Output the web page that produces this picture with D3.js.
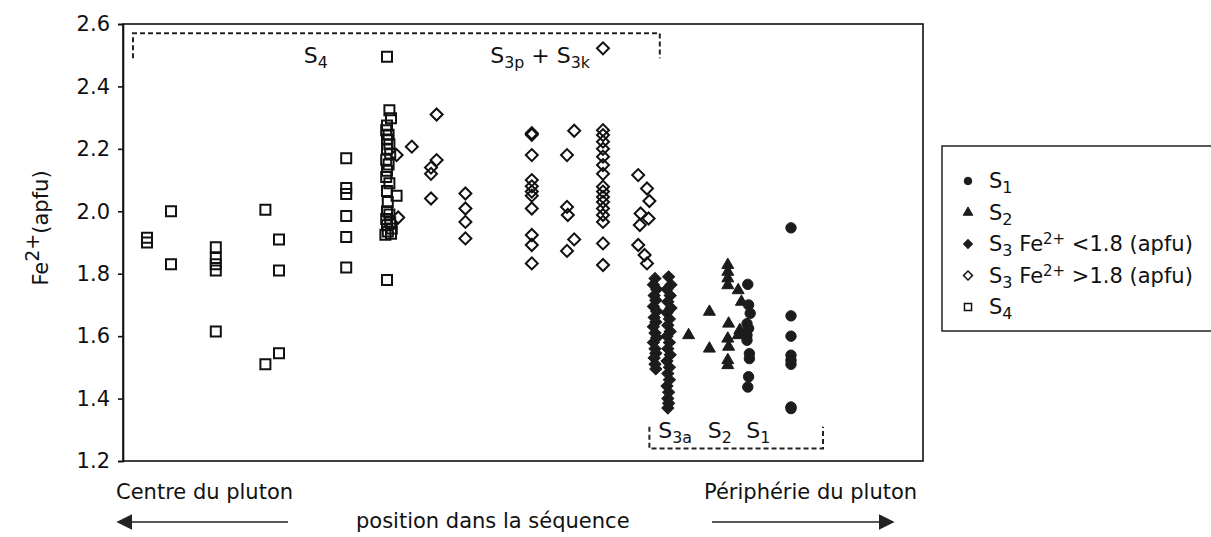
<!DOCTYPE html>
<html><head><meta charset="utf-8">
<script src="https://cdn.jsdelivr.net/npm/d3@7"></script>
<style>
body{margin:0;background:#fff;}
text{font-family:"DejaVu Sans",Verdana,sans-serif;fill:#111;}
</style></head>
<body><svg id="c" width="1211" height="537"></svg>
<script>
// ---------- data: [position in sequence, Fe2+ (apfu)] ----------
const yTicks = [1.2, 1.4, 1.6, 1.8, 2.0, 2.2, 2.4, 2.6];

const seriesS4 = [
  [3.0,1.915],[3.0,1.90],
  [6.0,2.0],[6.0,1.83],
  [11.6,1.885],[11.6,1.85],[11.6,1.83],[11.6,1.81],[11.6,1.615],
  [17.8,2.005],[17.8,1.51],[19.5,1.91],[19.5,1.81],[19.5,1.545],
  [27.9,2.17],[27.9,2.075],[27.9,2.055],[27.9,1.985],[27.9,1.918],[27.9,1.82],
  [33.0,2.495],[33.3,2.324],[33.5,2.298],[33.0,2.275],[32.9,2.26],[33.2,2.245],[33.0,2.23],
  [33.3,2.215],[33.0,2.2],[33.4,2.185],[32.9,2.165],[33.2,2.15],[33.0,2.13],[32.9,2.11],
  [33.3,2.09],[33.0,2.065],[34.2,2.05],[33.1,2.03],[33.0,2.0],[33.3,1.99],[32.9,1.975],
  [33.4,1.965],[33.0,1.955],[33.6,1.945],[33.1,1.935],[32.8,1.925],[33.5,1.928],[33.0,1.78]
];

const seriesS3high = [
  [34.2,2.18],[34.4,1.98],[36.1,2.207],[39.2,2.31],[39.2,2.164],[38.5,2.14],[38.5,2.12],[38.5,2.041],
  [42.8,2.057],[42.8,2.009],[42.8,1.966],[42.8,1.913],
  [51.1,2.25],[51.1,2.245],[51.1,2.18],[51.1,2.1],[51.1,2.08],[51.1,2.063],[51.1,2.05],
  [51.1,2.009],[51.1,1.924],[51.1,1.892],[51.1,1.833],
  [56.4,2.258],[55.5,2.18],[55.5,2.014],[55.6,1.988],[56.4,1.91],[55.5,1.873],
  [60.0,2.522],[60.0,2.26],[60.0,2.244],[60.0,2.223],[60.0,2.2],[60.0,2.175],[60.0,2.148],
  [60.0,2.12],[60.0,2.079],[60.0,2.063],[60.0,2.046],[60.0,2.03],[60.0,2.009],[60.0,1.988],
  [60.0,1.966],[60.0,1.897],[60.0,1.828],
  [64.4,2.116],[65.5,2.073],[65.8,2.033],[64.7,1.993],[65.7,1.977],[64.6,1.956],
  [64.4,1.892],[65.2,1.86],[65.5,1.833]
];

const seriesS3low = [
  [66.5,1.785],[66.3,1.765],[66.7,1.75],[66.4,1.73],[66.6,1.715],[66.3,1.695],[66.7,1.68],
  [66.4,1.66],[66.6,1.645],[66.3,1.63],[66.5,1.61],[66.7,1.595],[66.3,1.58],[66.5,1.56],
  [66.6,1.545],[66.4,1.53],[66.5,1.51],[66.6,1.495],
  [68.2,1.79],[68.5,1.765],[68.0,1.75],[68.4,1.73],[68.1,1.71],[68.5,1.69],[68.0,1.675],
  [68.3,1.655],[68.1,1.635],[68.4,1.615],[68.0,1.6],[68.3,1.58],[68.1,1.56],[68.4,1.54],
  [68.0,1.52],[68.3,1.5],[68.1,1.48],[68.3,1.46],[68.0,1.44],[68.2,1.42],[68.1,1.4],
  [68.2,1.385],[68.1,1.37]
];

const seriesS2 = [
  [70.7,1.603],[73.3,1.678],[73.3,1.56],
  [75.6,1.828],[75.6,1.806],[75.6,1.785],[75.6,1.763],[75.7,1.64],[75.6,1.592],
  [75.7,1.566],[75.6,1.523],[75.6,1.507],
  [76.9,1.747],[77.3,1.71],[77.1,1.619],[76.9,1.603]
];

const seriesS1 = [
  [78.1,1.766],[78.2,1.70],[78.4,1.673],[78.0,1.64],[78.2,1.625],[78.0,1.603],[78.0,1.587],
  [78.3,1.544],[78.3,1.528],[78.2,1.47],[78.1,1.437],
  [83.5,1.947],[83.5,1.665],[83.5,1.60],[83.5,1.539],[83.5,1.523],[83.5,1.51],[83.5,1.373],[83.5,1.368]
];

// bracket outlines [position, Fe]
const bracketTop = [[1.25,2.49],[1.25,2.57],[67.1,2.57],[67.1,2.49]];
const bracketBottom = [[65.8,1.31],[65.8,1.24],[87.5,1.24],[87.5,1.31]];

// ---------- layout ----------
const svg = d3.select("#c");
const x = d3.scaleLinear().domain([0,100]).range([123,923]);
const y = d3.scaleLinear().domain([1.2,2.6]).range([461,24]);

// frame
svg.append("rect").attr("x",x(0)).attr("y",y(2.6)).attr("width",x(100)-x(0)).attr("height",y(1.2)-y(2.6))
  .attr("fill","none").attr("stroke","#111").attr("stroke-width",1.6);

const ax = svg.append("g").attr("transform",`translate(${x(0)},0)`)
  .call(d3.axisLeft(y).tickValues(yTicks).tickFormat(d3.format(".1f")).tickSize(5).tickPadding(8));
ax.select(".domain").attr("stroke","#111").attr("stroke-width",1.6);
ax.selectAll(".tick line").attr("stroke","#111").attr("stroke-width",1.6);
ax.selectAll(".tick text").attr("font-size",21).attr("font-family","DejaVu Sans").attr("fill","#111");

// y label
const yl = svg.append("text").attr("transform","translate(48,228) rotate(-90)")
  .attr("text-anchor","middle").attr("font-size",21);
yl.append("tspan").text("Fe");
yl.append("tspan").attr("dy",-9).attr("font-size",19).text("2+");
yl.append("tspan").attr("dy",9).text("(apfu)");

// brackets
const line = d3.line().x(d=>x(d[0])).y(d=>y(d[1]));
[bracketTop, bracketBottom].forEach(b=>{
  svg.append("path").attr("d",line(b)).attr("fill","none").attr("stroke","#222")
    .attr("stroke-width",2).attr("stroke-dasharray","5,3");
});

// label helper with subscripts
function subLabel(px, py, base, sub, size, extra){
  const t = svg.append("text").attr("x",px).attr("y",py).attr("font-size",size);
  t.append("tspan").text(base);
  t.append("tspan").attr("dy",5).attr("font-size",size*0.72).text(sub);
  if(extra){ t.append("tspan").attr("dy",-5).text(extra[0]);
    t.append("tspan").attr("font-size",size).text(extra[1]);
    t.append("tspan").attr("dy",5).attr("font-size",size*0.72).text(extra[2]); }
  return t;
}
subLabel(x(22.6), y(2.475), "S", "4", 22);
subLabel(x(45.9), y(2.475), "S", "3p", 22, [" + ", "S", "3k"]);
subLabel(x(66.9), y(1.275), "S", "3a", 22);
subLabel(x(73.1), y(1.275), "S", "2", 22);
subLabel(x(77.9), y(1.275), "S", "1", 22);

// markers
const sq = d3.symbol(d3.symbolSquare, 100)();
const dia = d3.symbol(d3.symbolSquare, 72)();
const tri = d3.symbol(d3.symbolTriangle, 62)();
const cir = d3.symbol(d3.symbolCircle, 85)();
const dark = "#1c1c1c";

function plot(data, path, fill, rot){
  svg.append("g").selectAll("path").data(data).join("path")
    .attr("d",path)
    .attr("transform",d=>`translate(${x(d[0])},${y(d[1])})${rot?" rotate(45)":""}`)
    .attr("fill",fill?dark:"#fff").attr("fill-opacity",fill?1:0)
    .attr("stroke",fill?dark:"#111").attr("stroke-width",fill?1:2);
}
plot(seriesS4, sq, false, false);
plot(seriesS3high, dia, false, true);
plot(seriesS3low, dia, true, true);
plot(seriesS2, tri, true, false);
plot(seriesS1, cir, true, false);

// legend
const lg = svg.append("g");
lg.append("rect").attr("x",942).attr("y",146).attr("width",300).attr("height",185)
  .attr("fill","#fff").attr("stroke","#222").attr("stroke-width",1.5);
const legItems = [
  {sym:d3.symbol(d3.symbolCircle,45)(), fill:true, rot:false, sub:"1", rest:null},
  {sym:d3.symbol(d3.symbolTriangle,40)(), fill:true, rot:false, sub:"2", rest:null},
  {sym:d3.symbol(d3.symbolSquare,40)(), fill:true, rot:true, sub:"3", rest:"<1.8 (apfu)"},
  {sym:d3.symbol(d3.symbolSquare,40)(), fill:false, rot:true, sub:"3", rest:">1.8 (apfu)"},
  {sym:d3.symbol(d3.symbolSquare,50)(), fill:false, rot:false, sub:"4", rest:null}
];
legItems.forEach((it,i)=>{
  const cy = 181 + i*31.5;
  lg.append("path").attr("d",it.sym)
    .attr("transform",`translate(968,${cy})${it.rot?" rotate(45)":""}`)
    .attr("fill",it.fill?dark:"none").attr("stroke",it.fill?dark:"#111").attr("stroke-width",it.fill?1:1.5);
  const t = lg.append("text").attr("x",989).attr("y",cy+7).attr("font-size",21);
  t.append("tspan").text("S");
  t.append("tspan").attr("dy",5).attr("font-size",16).text(it.sub);
  if(it.rest){
    t.append("tspan").attr("dy",-5).text(" Fe");
    t.append("tspan").attr("dy",-7).attr("font-size",15).text("2+");
    t.append("tspan").attr("dy",7).text(" " + it.rest);
  }
});

// bottom annotations
svg.append("text").attr("x",116).attr("y",499).attr("font-size",21).text("Centre du pluton");
svg.append("text").attr("x",356).attr("y",528).attr("font-size",21).text("position dans la séquence");
svg.append("text").attr("x",704).attr("y",499).attr("font-size",21).text("Périphérie du pluton");

const defs = svg.append("defs");
defs.append("marker").attr("id","ah").attr("viewBox","0 0 10 10").attr("refX",9).attr("refY",5)
  .attr("markerWidth",16).attr("markerHeight",16).attr("markerUnits","userSpaceOnUse")
  .attr("orient","auto").append("path").attr("d","M0,0 L10,5 L0,10 Z").attr("fill","#222");
svg.append("line").attr("x1",288).attr("y1",522).attr("x2",118).attr("y2",522)
  .attr("stroke","#222").attr("stroke-width",1.5).attr("marker-end","url(#ah)");
svg.append("line").attr("x1",712).attr("y1",522).attr("x2",893).attr("y2",522)
  .attr("stroke","#222").attr("stroke-width",1.5).attr("marker-end","url(#ah)");
</script></body></html>
